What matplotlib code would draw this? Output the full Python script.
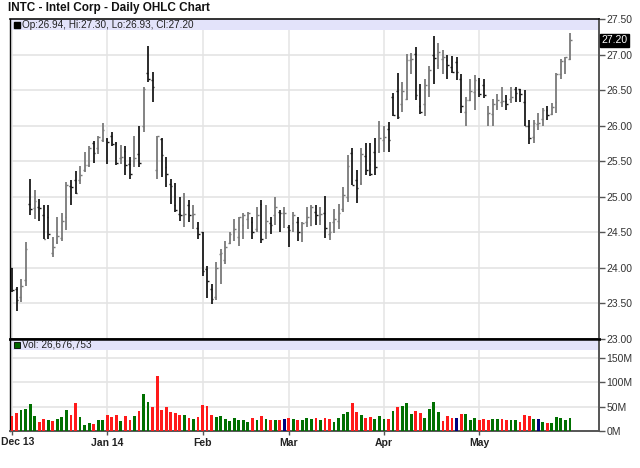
import matplotlib
matplotlib.use("Agg")
import matplotlib.pyplot as plt
import numpy as np
from matplotlib.patches import Rectangle

plt.rcParams["font.family"] = ["Liberation Sans", "DejaVu Sans"]

# ---- data ----
opens = [24.00, 23.70, 23.59, 23.83, 24.90, 24.84, 24.86, 24.74, 24.72, 24.21,
         24.37, 24.42, 24.71, 25.15, 25.24, 25.23, 25.38, 25.44, 25.76, 25.68,
         25.80, 25.81, 25.85, 25.75, 25.55, 25.65, 25.46, 25.51, 25.60, 26.00,
         26.74, 26.64, 25.37, 25.81, 25.42, 25.18, 24.89, 24.76, 24.74, 24.88,
         24.75, 24.56, 24.50, 23.99, 23.70, 23.59, 24.20, 24.11, 24.35, 24.51,
         24.43, 24.60, 24.69, 24.64, 24.54, 24.90, 24.50, 24.63, 24.74, 24.79,
         24.77, 24.58, 24.63, 24.64, 24.50, 24.64, 24.60, 24.79, 24.67, 24.77,
         24.48, 24.64, 24.66, 24.83, 25.00, 25.61, 25.23, 25.20, 25.58, 25.46,
         25.63, 25.65, 25.80, 25.96, 26.41, 26.49, 26.31, 26.37, 26.92, 27.01,
         26.27, 26.31, 26.52, 26.99, 26.85, 26.94, 26.92, 26.82, 26.90, 26.66,
         26.19, 26.36, 26.47, 26.52, 26.57, 26.17, 26.17, 26.27, 26.33, 26.35,
         26.38, 26.51, 26.51, 26.33, 26.00, 25.84, 26.03, 26.10, 26.22, 26.16,
         26.33, 26.73, 26.91, 26.94]
highs = [24.00, 23.73, 23.85, 24.36, 25.25, 25.09, 24.97, 24.88, 24.89, 24.43,
         24.71, 24.77, 25.21, 25.24, 25.36, 25.43, 25.63, 25.71, 25.79, 25.86,
         26.04, 25.82, 25.91, 25.77, 25.73, 25.71, 25.56, 25.86, 26.00, 26.54,
         27.12, 26.75, 25.86, 25.82, 25.56, 25.25, 25.19, 25.00, 25.05, 24.96,
         24.89, 24.65, 24.50, 24.03, 23.77, 24.08, 24.27, 24.38, 24.51, 24.69,
         24.72, 24.77, 24.78, 24.72, 24.85, 24.96, 24.88, 24.71, 24.99, 24.81,
         24.85, 24.60, 24.78, 24.71, 24.64, 24.85, 24.89, 24.88, 24.85, 25.01,
         24.64, 24.83, 24.90, 25.14, 25.59, 25.68, 25.38, 25.68, 25.75, 25.76,
         25.82, 26.07, 26.00, 26.05, 26.46, 26.74, 26.62, 27.01, 27.02, 27.10,
         26.59, 26.66, 26.84, 27.26, 27.16, 27.06, 26.99, 26.98, 26.97, 26.72,
         26.40, 26.66, 26.71, 26.67, 26.65, 26.27, 26.38, 26.45, 26.54, 26.43,
         26.54, 26.54, 26.52, 26.50, 26.08, 26.08, 26.18, 26.25, 26.27, 26.32,
         26.74, 26.94, 26.97, 27.30]
lows = [23.66, 23.40, 23.52, 23.75, 24.75, 24.69, 24.66, 24.40, 24.41, 24.15,
        24.33, 24.38, 24.53, 24.89, 25.04, 25.18, 25.35, 25.42, 25.47, 25.60,
        25.77, 25.46, 25.72, 25.44, 25.46, 25.30, 25.25, 25.42, 25.42, 25.91,
        26.62, 26.33, 25.25, 25.28, 25.14, 24.90, 24.78, 24.66, 24.57, 24.64,
        24.54, 24.41, 23.89, 23.58, 23.49, 23.55, 23.77, 24.06, 24.33, 24.38,
        24.31, 24.41, 24.55, 24.41, 24.50, 24.35, 24.41, 24.47, 24.61, 24.50,
        24.56, 24.29, 24.50, 24.38, 24.37, 24.57, 24.59, 24.60, 24.61, 24.42,
        24.39, 24.49, 24.55, 24.78, 24.92, 25.16, 24.91, 25.17, 25.31, 25.29,
        25.31, 25.62, 25.63, 25.63, 26.13, 26.10, 26.19, 26.36, 26.73, 26.36,
        26.17, 26.13, 26.40, 26.59, 26.79, 26.73, 26.66, 26.74, 26.64, 26.18,
        26.00, 26.35, 26.22, 26.40, 26.39, 25.99, 25.99, 26.22, 26.26, 26.22,
        26.32, 26.33, 26.33, 26.00, 25.74, 25.75, 25.94, 26.00, 26.08, 26.15,
        26.18, 26.66, 26.72, 26.93]
closes = [23.69, 23.55, 23.75, 24.26, 24.83, 24.94, 24.84, 24.41, 24.48, 24.30,
          24.45, 24.66, 25.16, 25.14, 25.06, 25.30, 25.44, 25.69, 25.62, 25.84,
          25.94, 25.77, 25.74, 25.47, 25.56, 25.44, 25.32, 25.55, 25.48, 26.52,
          26.65, 26.54, 25.85, 25.59, 25.32, 25.15, 24.81, 24.74, 24.76, 24.74,
          24.76, 24.47, 23.96, 23.82, 23.56, 24.00, 24.21, 24.29, 24.48, 24.55,
          24.71, 24.74, 24.77, 24.50, 24.74, 24.41, 24.66, 24.60, 24.85, 24.77,
          24.77, 24.53, 24.74, 24.50, 24.63, 24.72, 24.85, 24.74, 24.76, 24.56,
          24.50, 24.69, 24.77, 25.02, 25.43, 25.17, 25.12, 25.60, 25.38, 25.32,
          25.42, 25.82, 25.84, 25.80, 26.15, 26.12, 26.49, 26.92, 26.94, 26.43,
          26.19, 26.57, 26.78, 26.95, 27.04, 26.96, 26.85, 26.76, 26.76, 26.27,
          26.36, 26.49, 26.64, 26.45, 26.43, 26.18, 26.31, 26.36, 26.35, 26.31,
          26.41, 26.46, 26.45, 26.00, 25.82, 26.04, 26.04, 26.22, 26.15, 26.26,
          26.73, 26.91, 26.96, 27.20]
volumes_m = [30, 36, 44, 46, 55, 30, 19, 25, 23, 21,
             25, 28, 44, 32, 57, 28, 12, 17, 14, 22,
             23, 32, 28, 32, 20, 30, 22, 30, 41, 76,
             59, 50, 114, 44, 50, 40, 38, 32, 32, 27,
             25, 28, 53, 51, 32, 29, 30, 25, 20, 26,
             23, 22, 18, 27, 22, 30, 25, 23, 22, 22,
             25, 27, 25, 22, 23, 26, 25, 26, 22, 27,
             24, 19, 27, 34, 39, 58, 39, 33, 27, 29,
             24, 30, 25, 24, 41, 50, 52, 58, 34, 42,
             37, 27, 46, 60, 39, 21, 30, 27, 27, 34,
             34, 22, 27, 22, 25, 22, 24, 25, 25, 22,
             22, 22, 18, 32, 30, 24, 24, 19, 16, 17,
             29, 27, 22, 26.676753]
month_starts = [0, 21, 42, 61, 82, 103]
month_labels = ["Dec 13", "Jan 14", "Feb", "Mar", "Apr", "May"]
price_ticks = [23.0, 23.5, 24.0, 24.5, 25.0, 25.5, 26.0, 26.5, 27.0, 27.5]
vol_ticks = [0, 50, 100, 150]
title = "INTC - Intel Corp - Daily OHLC Chart"

# ---- styling ----
W, H = 640, 468
fig = plt.figure(figsize=(W / 100, H / 100), dpi=100)
fig.patch.set_facecolor("white")

left_px, right_px = 10, 599
ptop, pbot = 19, 339
vbot = 431
ax = fig.add_axes([left_px / W, 1 - pbot / H, (right_px - left_px) / W, (pbot - ptop) / H])
axv = fig.add_axes([left_px / W, 1 - vbot / H, (right_px - left_px) / W, (vbot - pbot) / H], sharex=ax)

n = len(closes)
x = np.arange(n)
o = np.array(opens); h = np.array(highs); l = np.array(lows); c = np.array(closes)
v = np.array(volumes_m)

grid_c = "#e4e4e4"
up_c, dn_c = "#7a7a7a", "#1a1a1a"

# price panel
ax.set_ylim(23.0, 27.5)
ax.set_xlim(-0.44, 129.4)
for yv in price_ticks:
    ax.axhline(yv, color=grid_c, lw=1.2, zorder=0)
for m in month_starts:
    ax.axvline(m, color=grid_c, lw=1.1, zorder=0)
    axv.axvline(m, color=grid_c, lw=1.1, zorder=0)

bar_cols = [up_c if c[i] >= o[i] else dn_c for i in range(n)]
ax.vlines(x, l, h, colors=bar_cols, lw=1.3, zorder=3)
ax.hlines(o, x - 0.38, x, colors=bar_cols, lw=1.0, zorder=3)
ax.hlines(c, x, x + 0.38, colors=bar_cols, lw=1.0, zorder=3)

band_h = 11 / (pbot - ptop)
ax.add_patch(Rectangle((0, 1 - band_h), 1, band_h, transform=ax.transAxes,
                       facecolor="#e3e3fa", edgecolor="none", zorder=2))
ax.plot([0.012], [1 - band_h / 2], marker="s", ms=5, mfc="black", mec="black",
        transform=ax.transAxes, zorder=4, clip_on=False)
ax.text(0.021, 1 - band_h / 2,
        f"Op:{opens[-1]:.2f}, Hi:{highs[-1]:.2f}, Lo:{lows[-1]:.2f}, Cl:{closes[-1]:.2f}",
        transform=ax.transAxes, va="center", ha="left", fontsize=7.2, color="#222", zorder=4)

ax.yaxis.tick_right()
ax.set_yticks(price_ticks)
ax.set_yticklabels([f"{t:.2f}" for t in price_ticks])
ax.tick_params(axis="y", which="both", length=4, width=1, color="#555",
               labelsize=7.5, labelcolor="#333", pad=1.5)
ax.tick_params(axis="x", which="both", length=0, labelbottom=False)

# current price marker
ax.text(1.0 + 2.5 / (right_px - left_px), closes[-1], f"{closes[-1]:.2f}",
        transform=ax.get_yaxis_transform(), va="center", ha="left", fontsize=7.5,
        color="white", zorder=5, clip_on=False,
        bbox=dict(boxstyle="square,pad=0.15", facecolor="black", edgecolor="black"))

ax.spines["left"].set_color("black"); ax.spines["left"].set_linewidth(1.0)
ax.spines["top"].set_color("#111"); ax.spines["top"].set_linewidth(1.2)
ax.spines["right"].set_color("#555"); ax.spines["right"].set_linewidth(1.4)
ax.spines["bottom"].set_color("black"); ax.spines["bottom"].set_linewidth(1.8)

# volume panel
vmax = 189
axv.set_ylim(0, vmax)
for yv in vol_ticks[1:]:
    axv.axhline(yv, color=grid_c, lw=1.2, zorder=0)
vcols = []
for i in range(n):
    ref = c[i - 1] if i > 0 else o[i]
    if c[i] > ref:
        vcols.append("#007000")
    elif c[i] < ref:
        vcols.append("#ff1a1a")
    else:
        vcols.append("#000080")
axv.bar(x, v, width=0.62, color=vcols, zorder=3, linewidth=0)

vband_h = 11 / (vbot - pbot)
axv.add_patch(Rectangle((0, 1 - vband_h), 1, vband_h, transform=axv.transAxes,
                        facecolor="#e3e3fa", edgecolor="none", zorder=2))
axv.plot([0.012], [1 - vband_h / 2], marker="s", ms=5, mfc="#006400", mec="black",
         mew=0.6, transform=axv.transAxes, zorder=4, clip_on=False)
axv.text(0.021, 1 - vband_h / 2, f"Vol: {int(round(volumes_m[-1] * 1e6)):,}",
         transform=axv.transAxes, va="center", ha="left", fontsize=7.2, color="#222", zorder=4)

axv.yaxis.tick_right()
axv.set_yticks(vol_ticks)
axv.set_yticklabels([f"{t}M" for t in vol_ticks])
axv.tick_params(axis="y", length=4, width=1, color="#555", labelsize=7.5, labelcolor="#333", pad=1.5)
axv.set_xticks(month_starts)
# the first month label is placed by hand against the left edge of the picture
axv.set_xticklabels([""] + month_labels[1:], fontweight="bold")
axv.tick_params(axis="x", length=3, width=1, color="#555", labelsize=7.5, labelcolor="#222", pad=2)
fig.text(1 / W, 1 - 436.8 / H, month_labels[0], fontsize=7.5, fontweight="bold",
         color="#222", ha="left", va="top")

axv.spines["top"].set_color("black"); axv.spines["top"].set_linewidth(1.8)
axv.spines["left"].set_color("black"); axv.spines["left"].set_linewidth(1.0)
axv.spines["right"].set_color("#555"); axv.spines["right"].set_linewidth(1.4)
axv.spines["bottom"].set_color("#555"); axv.spines["bottom"].set_linewidth(1.4)

fig.text(8 / W, 1 - 8 / H, title, fontsize=8.5, fontweight="bold", va="center", ha="left", color="#111")

fig.savefig("out.png", dpi=100)
